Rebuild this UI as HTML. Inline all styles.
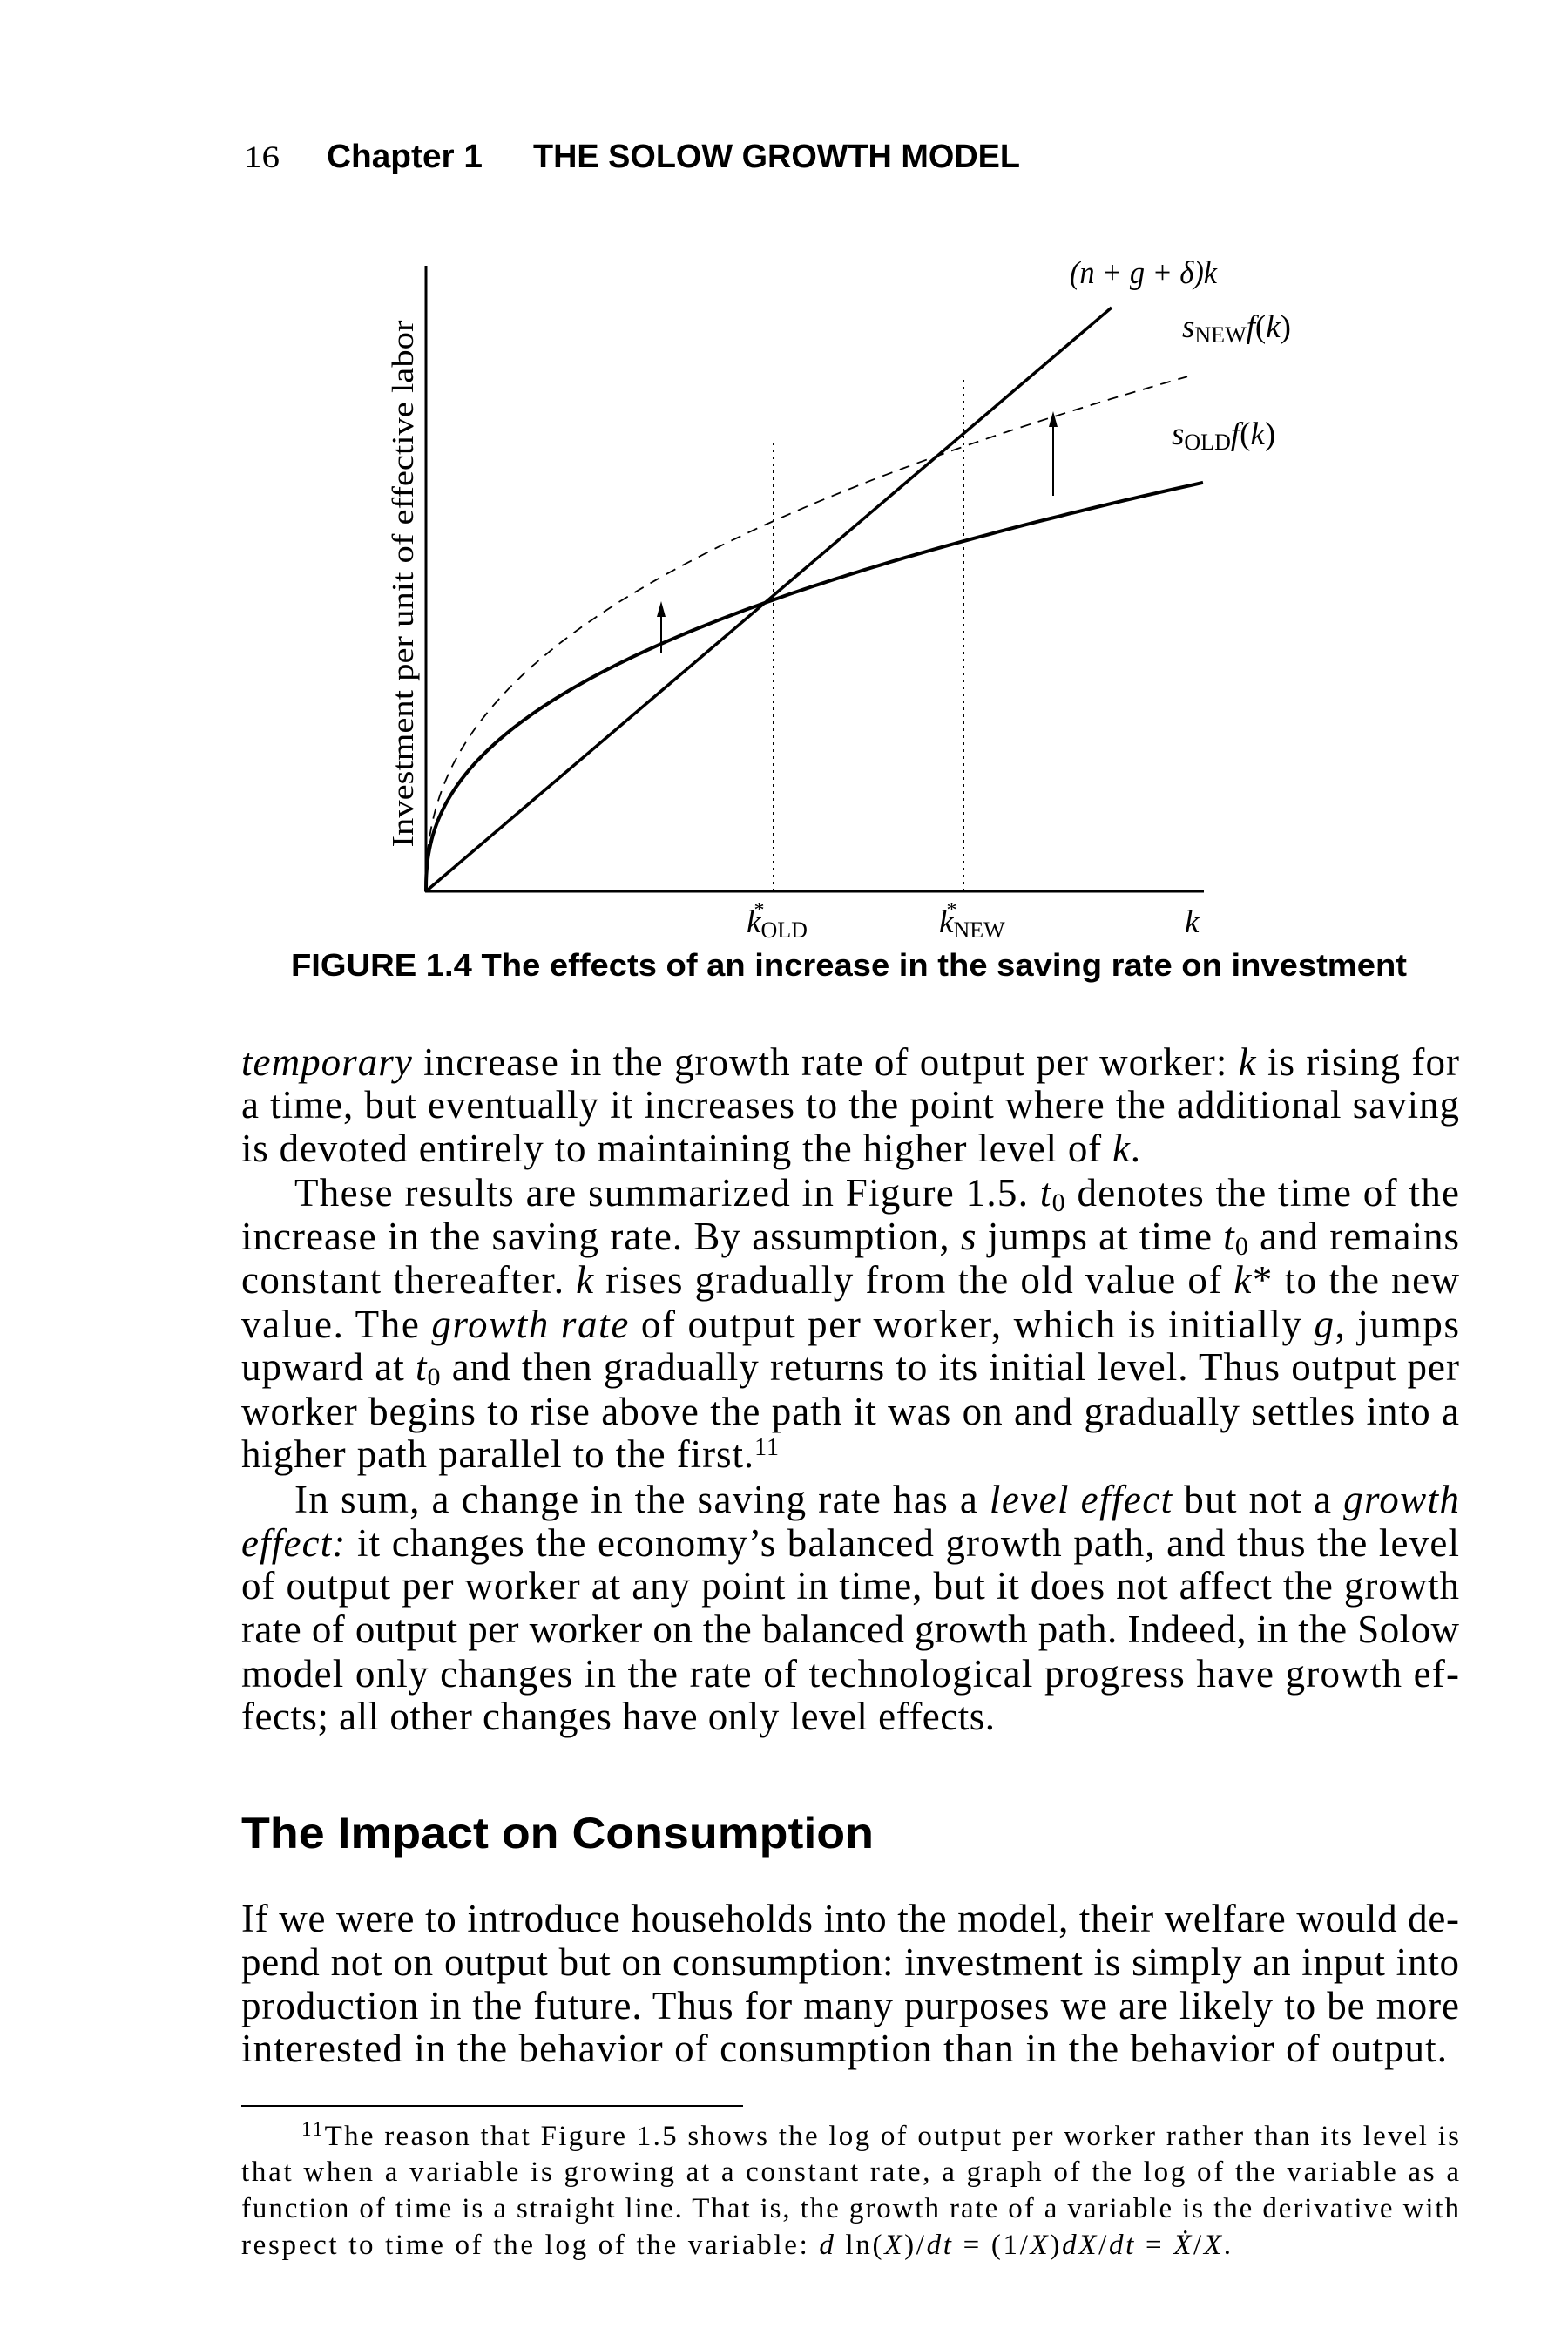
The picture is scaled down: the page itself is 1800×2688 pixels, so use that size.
<!DOCTYPE html>
<html><head><meta charset="utf-8"><style>
html,body{margin:0;padding:0;background:#fff;}
svg{display:block;}
.sf{font-family:"Liberation Serif",serif;}
.ss{font-family:"Liberation Sans",sans-serif;font-weight:bold;}
.b{font-size:45px;}
.fn{font-size:33px;}
</style></head><body>
<svg width="1800" height="2688" viewBox="0 0 1800 2688" xmlns="http://www.w3.org/2000/svg">
<rect width="1800" height="2688" fill="#fff"/>
<!-- header -->
<text x="280" y="192" class="sf" font-size="36" textLength="41" lengthAdjust="spacingAndGlyphs">16</text>
<text x="375" y="192" class="ss" font-size="38" textLength="179" lengthAdjust="spacingAndGlyphs">Chapter 1</text>
<text x="612" y="192" class="ss" font-size="38" textLength="559" lengthAdjust="spacingAndGlyphs">THE SOLOW GROWTH MODEL</text>

<!-- chart -->
<g fill="none" stroke="#000">
<line x1="489" y1="305" x2="489" y2="1024" stroke-width="3"/>
<line x1="488" y1="1023" x2="1382" y2="1023" stroke-width="3"/>
<line x1="489" y1="1023" x2="1276" y2="353" stroke-width="3.5"/>
<line x1="888" y1="508" x2="888" y2="1023" stroke-width="2" stroke-dasharray="3 5"/>
<line x1="1106" y1="436" x2="1106" y2="1023" stroke-width="2" stroke-dasharray="3 5"/>
<path id="old" stroke-width="4"/>
<path id="new" stroke-width="1.8" stroke-dasharray="12 9"/>
<line x1="759" y1="750" x2="759" y2="705" stroke-width="2"/>
<line x1="1209" y1="569" x2="1209" y2="488" stroke-width="2"/>
</g>
<polygon points="759,690 754,708 764,708" fill="#000"/>
<polygon points="1209,472 1204,490 1214,490" fill="#000"/>

<text x="1228" y="325" class="sf" font-size="37" font-style="italic" textLength="169" lengthAdjust="spacingAndGlyphs">(n + g + δ)k</text>
<text x="1357" y="387" class="sf" font-size="37"><tspan font-style="italic">s</tspan><tspan font-size="26" dy="6">NEW</tspan><tspan dy="-6" font-style="italic">f</tspan>(<tspan font-style="italic">k</tspan>)</text>
<text x="1345" y="510" class="sf" font-size="37"><tspan font-style="italic">s</tspan><tspan font-size="26" dy="6">OLD</tspan><tspan dy="-6" font-style="italic">f</tspan>(<tspan font-style="italic">k</tspan>)</text>
<text x="857" y="1070" class="sf" font-size="37"><tspan font-style="italic">k</tspan><tspan font-size="24" dy="-18" dx="-8">*</tspan><tspan font-size="26" dy="24" dx="-4">OLD</tspan></text>
<text x="1078" y="1070" class="sf" font-size="37"><tspan font-style="italic">k</tspan><tspan font-size="24" dy="-18" dx="-8">*</tspan><tspan font-size="26" dy="24" dx="-4">NEW</tspan></text>
<text x="1360" y="1070" class="sf" font-size="37" font-style="italic">k</text>
<text transform="translate(474,670) rotate(-90)" text-anchor="middle" class="sf" font-size="35" textLength="605" lengthAdjust="spacingAndGlyphs">Investment per unit of effective labor</text>
<text x="334" y="1120" class="ss" font-size="36" textLength="1281" lengthAdjust="spacingAndGlyphs">FIGURE 1.4   The effects of an increase in the saving rate on investment</text>

<!-- body -->
<g class="sf b">
<text x="277" y="1234" textLength="1398" lengthAdjust="spacing"><tspan font-style="italic">temporary</tspan> increase in the growth rate of output per worker: <tspan font-style="italic">k</tspan> is rising for</text>
<text x="277" y="1283" textLength="1398" lengthAdjust="spacing">a time, but eventually it increases to the point where the additional saving</text>
<text x="277" y="1333" textLength="1032" lengthAdjust="spacing">is devoted entirely to maintaining the higher level of <tspan font-style="italic">k</tspan>.</text>
<text x="338" y="1384" textLength="1337" lengthAdjust="spacing">These results are summarized in Figure 1.5. <tspan font-style="italic">t</tspan><tspan font-size="30" dy="6">0</tspan><tspan dy="-6"> denotes the time of the</tspan></text>
<text x="277" y="1434" textLength="1398" lengthAdjust="spacing">increase in the saving rate. By assumption, <tspan font-style="italic">s</tspan> jumps at time <tspan font-style="italic">t</tspan><tspan font-size="30" dy="6">0</tspan><tspan dy="-6"> and remains</tspan></text>
<text x="277" y="1484" textLength="1398" lengthAdjust="spacing">constant thereafter. <tspan font-style="italic">k</tspan> rises gradually from the old value of <tspan font-style="italic">k</tspan>* to the new</text>
<text x="277" y="1535" textLength="1398" lengthAdjust="spacing">value. The <tspan font-style="italic">growth rate</tspan> of output per worker, which is initially <tspan font-style="italic">g</tspan>, jumps</text>
<text x="277" y="1584" textLength="1398" lengthAdjust="spacing">upward at <tspan font-style="italic">t</tspan><tspan font-size="30" dy="6">0</tspan><tspan dy="-6"> and then gradually returns to its initial level. Thus output per</tspan></text>
<text x="277" y="1635" textLength="1398" lengthAdjust="spacing">worker begins to rise above the path it was on and gradually settles into a</text>
<text x="277" y="1684" textLength="617" lengthAdjust="spacing">higher path parallel to the first.<tspan font-size="28" dy="-14">11</tspan></text>
<text x="338" y="1736" textLength="1337" lengthAdjust="spacing">In sum, a change in the saving rate has a <tspan font-style="italic">level effect</tspan> but not a <tspan font-style="italic">growth</tspan></text>
<text x="277" y="1786" textLength="1398" lengthAdjust="spacing"><tspan font-style="italic">effect:</tspan> it changes the economy’s balanced growth path, and thus the level</text>
<text x="277" y="1835" textLength="1398" lengthAdjust="spacing">of output per worker at any point in time, but it does not affect the growth</text>
<text x="277" y="1885" textLength="1398" lengthAdjust="spacing">rate of output per worker on the balanced growth path. Indeed, in the Solow</text>
<text x="277" y="1936" textLength="1398" lengthAdjust="spacing">model only changes in the rate of technological progress have growth ef-</text>
<text x="277" y="1985" textLength="865" lengthAdjust="spacing">fects; all other changes have only level effects.</text>
</g>
<text x="277" y="2121" class="ss" font-size="50" textLength="726" lengthAdjust="spacingAndGlyphs">The Impact on Consumption</text>
<g class="sf b">
<text x="277" y="2217" textLength="1398" lengthAdjust="spacing">If we were to introduce households into the model, their welfare would de-</text>
<text x="277" y="2267" textLength="1398" lengthAdjust="spacing">pend not on output but on consumption: investment is simply an input into</text>
<text x="277" y="2317" textLength="1398" lengthAdjust="spacing">production in the future. Thus for many purposes we are likely to be more</text>
<text x="277" y="2366" textLength="1384" lengthAdjust="spacing">interested in the behavior of consumption than in the behavior of output.</text>
</g>
<line x1="277" y1="2417" x2="853" y2="2417" stroke="#000" stroke-width="2"/>
<g class="sf fn">
<text x="346" y="2462" textLength="1329" lengthAdjust="spacing"><tspan font-size="23" dy="-11">11</tspan><tspan dy="11">The reason that Figure 1.5 shows the log of output per worker rather than its level is</tspan></text>
<text x="277" y="2503" textLength="1398" lengthAdjust="spacing">that when a variable is growing at a constant rate, a graph of the log of the variable as a</text>
<text x="277" y="2545" textLength="1398" lengthAdjust="spacing">function of time is a straight line. That is, the growth rate of a variable is the derivative with</text>
<text x="277" y="2587" textLength="1136" lengthAdjust="spacing">respect to time of the log of the variable: <tspan font-style="italic">d</tspan> ln(<tspan font-style="italic">X</tspan>)/<tspan font-style="italic">dt</tspan> = (1/<tspan font-style="italic">X</tspan>)<tspan font-style="italic">dX</tspan>/<tspan font-style="italic">dt</tspan> = <tspan font-style="italic">Ẋ</tspan>/<tspan font-style="italic">X</tspan>.</text>
</g>
<script>
function mk(id,scale,end,p){var d="M489,1023";for(var i=1;i<=140;i++){var dx=end*Math.pow(i/140,1.8);var h=scale*335*Math.pow(dx/400,p);d+=" L"+(489+dx).toFixed(1)+","+(1023-h).toFixed(1);}document.getElementById(id).setAttribute("d",d);}
mk("old",1,892,0.42);mk("new",1.27,874,0.42);
</script>
</svg>
</body></html>
